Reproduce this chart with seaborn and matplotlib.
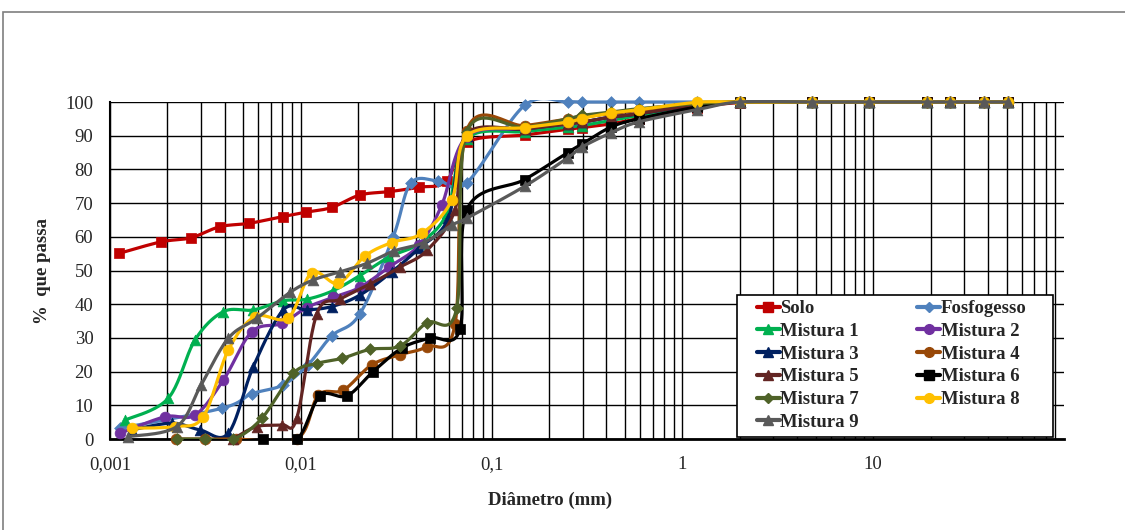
#grain size curves - solo, fosfogesso and mixtures

import numpy as np
import pandas as pd
import matplotlib
matplotlib.use('Agg')
from matplotlib import pyplot as plt
from matplotlib.lines import Line2D
from matplotlib.patches import Rectangle
from matplotlib.ticker import FixedLocator, FixedFormatter, LogLocator, NullFormatter
from matplotlib.transforms import Bbox, TransformedBbox
import seaborn as sns

#sieve openings (mm), shared by every sample
sieves = [0.074, 0.149, 0.25, 0.297, 0.42, 0.59, 1.19, 2.0, 4.76, 9.52, 19.1, 25.4, 38.1, 50.8]

#sedimentation diameters (mm) and % passing, then % passing on the sieves
solo_d = [0.00112, 0.00185, 0.00265, 0.00377, 0.00537, 0.00804, 0.01065, 0.01452, 0.0204, 0.0291, 0.0416, 0.0582]
solo_p = [55.1, 58.5, 59.7, 63.0, 64.0, 66.0, 67.3, 68.7, 72.4, 73.4, 74.7, 76.5]
solo_s = [88.0, 90.2, 91.9, 92.4, 93.5, 95.1, 98.3, 99.8, 100, 100, 100, 100, 100, 100]

fosfo_d = [0.00113, 0.00385, 0.00553, 0.00804, 0.0109, 0.01452, 0.0204, 0.0305, 0.0377, 0.0526]
fosfo_p = [3.2, 9.1, 13.4, 16.0, 22.0, 30.6, 37.1, 60.0, 75.9, 76.6]
fosfo_s = [76.0, 99.0, 100, 100, 100, 100, 100, 100, 100, 100, 100, 100, 100, 100]

m1_d = [0.00120, 0.00202, 0.00279, 0.00393, 0.00564, 0.00807, 0.01078, 0.01475, 0.0204, 0.0290, 0.0416, 0.0584]
m1_p = [5.6, 12.1, 29.4, 37.8, 38.3, 41.0, 41.5, 44.0, 48.5, 54.0, 58.0, 67.0]
m1_s = [89.0, 91.2, 92.5, 93.0, 94.5, 96.0, 99.0, 100, 100, 100, 100, 100, 100, 100]

m2_d = [0.00113, 0.00194, 0.00279, 0.00393, 0.00553, 0.00794, 0.01074, 0.01475, 0.0204, 0.0290, 0.0416, 0.0548]
m2_p = [1.7, 6.6, 7.1, 17.5, 31.8, 34.3, 39.0, 42.0, 45.0, 51.0, 57.5, 69.4]
m2_s = [89.7, 92.0, 93.5, 94.0, 95.5, 96.5, 99.2, 100, 100, 100, 100, 100, 100, 100]

m3_d = [0.00130, 0.00211, 0.00296, 0.00417, 0.00564, 0.00810, 0.01074, 0.01452, 0.0204, 0.0300, 0.0416, 0.0593]
m3_p = [2.7, 4.7, 2.7, 1.7, 21.5, 38.3, 38.3, 39.3, 42.7, 49.6, 56.6, 65.5]
m3_s = [90.0, 92.0, 93.5, 94.0, 95.5, 96.5, 99.2, 100, 100, 100, 100, 100, 100, 100]

m4_d = [0.00222, 0.00315, 0.00458, 0.00952, 0.01235, 0.01671, 0.02353, 0.0331, 0.0457, 0.0643]
m4_p = [0.0, 0.0, 0.0, 0.0, 13.0, 14.5, 22.0, 25.0, 27.4, 34.0]
m4_s = [91.5, 93.0, 95.0, 95.5, 96.5, 97.5, 99.3, 100, 100, 100, 100, 100, 100, 100]

m5_d = [0.00441, 0.00587, 0.00794, 0.00952, 0.01211, 0.01606, 0.0231, 0.0331, 0.0459, 0.0643]
m5_p = [0.0, 3.7, 4.2, 6.1, 37.0, 41.5, 46.0, 51.0, 56.0, 68.0]
m5_s = [90.5, 92.0, 93.5, 94.0, 95.5, 96.5, 99.2, 100, 100, 100, 100, 100, 100, 100]

m6_d = [0.00634, 0.00955, 0.01261, 0.01747, 0.02391, 0.0339, 0.04755, 0.0683]
m6_p = [0.0, 0.0, 12.8, 12.8, 20.0, 27.0, 30.0, 32.6]
m6_s = [68.0, 77.0, 85.0, 87.5, 92.5, 95.0, 98.5, 100, 100, 100, 100, 100, 100, 100]

m7_d = [0.00224, 0.00315, 0.00443, 0.00624, 0.00913, 0.01211, 0.01639, 0.02306, 0.0331, 0.0457, 0.0656]
m7_p = [0.0, 0.0, 0.0, 6.1, 19.5, 22.4, 23.9, 26.6, 27.6, 34.5, 38.8]
m7_s = [91.0, 92.5, 95.0, 96.0, 97.0, 98.0, 99.5, 100, 100, 100, 100, 100, 100, 100]

m8_d = [0.00130, 0.00219, 0.00308, 0.00417, 0.00575, 0.0086, 0.0114, 0.01573, 0.0217, 0.02995, 0.0430, 0.0618]
m8_p = [3.2, 3.7, 6.6, 26.4, 36.3, 36.0, 49.3, 46.2, 54.3, 58.3, 61.0, 70.9]
m8_s = [89.9, 92.4, 94.0, 95.1, 96.7, 97.7, 99.9, 100, 100, 100, 100, 100, 100, 100]

m9_d = [0.00125, 0.00224, 0.0030, 0.00417, 0.00587, 0.00878, 0.01163, 0.01606, 0.02215, 0.0308, 0.0442, 0.0620]
m9_p = [0.7, 3.7, 16.0, 29.9, 35.8, 43.5, 47.2, 49.6, 52.1, 55.8, 58.3, 63.5]
m9_s = [65.5, 75.0, 83.4, 86.6, 90.8, 94.1, 97.7, 100, 100, 100, 100, 100, 100, 100]

names = ['Solo', 'Fosfogesso', 'Mistura 1', 'Mistura 2', 'Mistura 3', 'Mistura 4',
         'Mistura 5', 'Mistura 6', 'Mistura 7', 'Mistura 8', 'Mistura 9']
diams = [solo_d, fosfo_d, m1_d, m2_d, m3_d, m4_d, m5_d, m6_d, m7_d, m8_d, m9_d]
fines = [solo_p, fosfo_p, m1_p, m2_p, m3_p, m4_p, m5_p, m6_p, m7_p, m8_p, m9_p]
coarse = [solo_s, fosfo_s, m1_s, m2_s, m3_s, m4_s, m5_s, m6_s, m7_s, m8_s, m9_s]

colors = ['#C00000', '#4F81BD', '#00B050', '#7030A0', '#002060', '#984807',
          '#632523', '#000000', '#4F6228', '#FFC000', '#595959']
markers = ['s', 'D', '^', 'o', '^', 'o', '^', 's', 'D', 'o', '^']
msizes = [60, 36, 60, 60, 60, 60, 60, 60, 36, 60, 60]

#one long table with every point
rows = []
for n, d, f, s in zip(names, diams, fines, coarse):
    for x, y in zip(list(d) + sieves, list(f) + s):
        rows.append((n, x, y))
df = pd.DataFrame(rows, columns=['amostra', 'diametro', 'passa'])

#excel style smoothed line (bezier through the points, done in screen-like units)
def smooth_curve(x, y, n=24):
    u = np.log10(np.asarray(x, float)) * 190.8
    v = np.asarray(y, float) * 3.37
    pts = np.column_stack([u, v])
    out = []
    t = np.linspace(0, 1, n)[:, None]
    for i in range(len(pts) - 1):
        p0 = pts[i - 1] if i > 0 else pts[i]
        p1 = pts[i]
        p2 = pts[i + 1]
        p3 = pts[i + 2] if i + 2 < len(pts) else pts[i + 1]
        c1 = p1 + (p2 - p0) / 6
        c2 = p2 - (p3 - p1) / 6
        seg = (1 - t)**3 * p1 + 3 * (1 - t)**2 * t * c1 + 3 * (1 - t) * t**2 * c2 + t**3 * p2
        out.append(seg if i == 0 else seg[1:])
    s = np.vstack(out)
    return 10**(s[:, 0] / 190.8), s[:, 1] / 3.37

sns.set_style('white')
plt.rcParams['font.family'] = ['Liberation Serif', 'DejaVu Serif']

fig = plt.figure(figsize=(11.25, 5.3), dpi=100)
ax = fig.add_axes([110/1125, 1 - 439/530, 954/1125, 337/530])

#clip lines just outside the plot area (markers stay unclipped)
clipbox = TransformedBbox(Bbox([[0, 0], [1, 1.006]]), ax.transAxes)

for i, n in enumerate(names):
    sub = df[df['amostra'] == n]
    xs, ys = smooth_curve(sub['diametro'], sub['passa'])
    sns.lineplot(x=xs, y=ys, sort=False, estimator=None, color=colors[i], lw=2.3,
                 ax=ax, zorder=3 + 2*i)
    ax.lines[-1].set_clip_box(clipbox)
    sns.scatterplot(x=sub['diametro'].values, y=sub['passa'].values, marker=markers[i],
                    s=msizes[i], color=colors[i], edgecolor=colors[i], linewidth=0.5,
                    ax=ax, zorder=4 + 2*i, clip_on=False, legend=False)

ax.set_xscale('log')
ax.set_xlim(0.001, 100)
ax.set_ylim(0, 100)
ax.set_yticks(range(0, 101, 10))
ax.xaxis.set_major_locator(FixedLocator([0.001, 0.01, 0.1, 1, 10]))
ax.xaxis.set_major_formatter(FixedFormatter(['0,001', '0,01', '0,1', '1', '10']))
ax.xaxis.set_minor_locator(LogLocator(base=10, subs=np.arange(2, 10), numticks=20))
ax.xaxis.set_minor_formatter(NullFormatter())
ax.tick_params(axis='both', which='both', length=0, labelsize=13.5, pad=12)

ax.set_axisbelow(True)
ax.grid(which='major', axis='both', color='black', lw=1.0)
ax.grid(which='minor', axis='x', color='black', lw=1.0)
for side in ['top', 'right']:
    ax.spines[side].set_visible(False)
ax.spines['left'].set_color('black')
ax.spines['left'].set_linewidth(1.5)
ax.spines['bottom'].set_color('black')
ax.spines['bottom'].set_linewidth(2)

ax.set_xlabel('Diâmetro (mm)', fontsize=13.5, fontweight='bold')
ax.set_ylabel('%  que passa', fontsize=13.5, fontweight='bold')
ax.xaxis.set_label_coords(0.461, -0.155)
ax.yaxis.set_label_coords(-0.062, 0.5)

#legend rows read across: reorder for column filling
handles = [Line2D([], [], color=colors[i], marker=markers[i], lw=3,
                  ms=7 if markers[i] not in ('D',) else 5.5) for i in range(len(names))]
order = [0, 2, 4, 6, 8, 10, 1, 3, 5, 7, 9]

#legend box (white, black edge) drawn separately so the side padding can be wider
ax.add_patch(Rectangle((737/1125, 1 - 437/530), 316/1125, 142/530, transform=fig.transFigure,
                       facecolor='white', edgecolor='black', lw=1.2, zorder=49, clip_on=False))
leg = ax.legend([handles[i] for i in order], [names[i] for i in order], ncol=2,
                loc='upper left', bbox_to_anchor=(757/1125, 1 - 300/530),
                bbox_transform=fig.transFigure,
                prop={'family': 'Liberation Serif', 'weight': 'bold', 'size': 13.5},
                frameon=False, handlelength=1.2, handletextpad=0.05, columnspacing=3.1,
                labelspacing=0.3, borderpad=0, borderaxespad=0)
leg.set_zorder(50)

#outer chart border
fig.patches.append(Rectangle((3/1125, -0.01), 1.2, 1 - 12/530 + 0.01, transform=fig.transFigure,
                             fill=False, edgecolor='#7F7F7F', lw=1.2))

fig.savefig('out.png', dpi=100)
